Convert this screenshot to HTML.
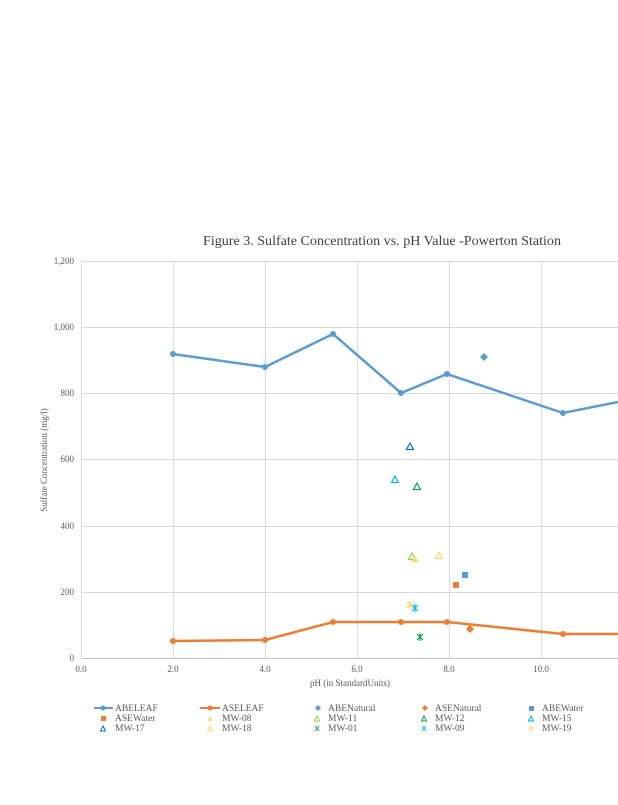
<!DOCTYPE html>
<html><head><style>
body{margin:0;background:#fff;}
svg text{font-family:"Liberation Serif",serif;fill:#595959;}
</style></head><body>
<svg width="618" height="800" xmlns="http://www.w3.org/2000/svg">
<g stroke="#d9d9d9" stroke-width="1">
<line x1="81" y1="261.5" x2="618" y2="261.5"/>
<line x1="81" y1="327.5" x2="618" y2="327.5"/>
<line x1="81" y1="393.5" x2="618" y2="393.5"/>
<line x1="81" y1="459.5" x2="618" y2="459.5"/>
<line x1="81" y1="526.5" x2="618" y2="526.5"/>
<line x1="81" y1="592.5" x2="618" y2="592.5"/>
<line x1="173.5" y1="261" x2="173.5" y2="658"/>
<line x1="265.5" y1="261" x2="265.5" y2="658"/>
<line x1="357.5" y1="261" x2="357.5" y2="658"/>
<line x1="449.5" y1="261" x2="449.5" y2="658"/>
<line x1="541.5" y1="261" x2="541.5" y2="658"/>
<line x1="81.5" y1="261" x2="81.5" y2="658"/>
</g>
<line x1="81" y1="658.5" x2="618" y2="658.5" stroke="#bfbfbf"/>
<text x="382" y="245" font-size="13.5" text-anchor="middle" style="fill:#404040" textLength="358" lengthAdjust="spacingAndGlyphs">Figure 3. Sulfate Concentration  vs. pH Value  -Powerton  Station</text>
<g font-size="9" text-anchor="end">
<text x="74" y="264">1,200</text><text x="74" y="330">1,000</text><text x="74" y="396">800</text>
<text x="74" y="462">600</text><text x="74" y="529">400</text><text x="74" y="595">200</text><text x="74" y="661">0</text>
</g>
<g font-size="9" text-anchor="middle">
<text x="81" y="672">0.0</text><text x="173" y="672">2.0</text><text x="265" y="672">4.0</text>
<text x="357" y="672">6.0</text><text x="449" y="672">8.0</text><text x="541" y="672">10.0</text>
<text x="350" y="686">pH (in StandardUnits)</text>
</g>
<text font-size="9" transform="translate(47,460) rotate(-90)" text-anchor="middle">Sulfate  Concentration  (mg/l)</text>
<polyline points="173,354 265,367 333,334 401,393 447,374 563,413 618,402" fill="none" stroke="#5b9bd5" stroke-width="2.5"/>
<polyline points="173,641 265,640 333,622 401,622 447,622 563,634 618,634" fill="none" stroke="#ed7d31" stroke-width="2.5"/>
<g fill="#5b9bd5"><circle cx="173" cy="354" r="3"/><circle cx="265" cy="367" r="3"/><circle cx="333" cy="334" r="3"/><circle cx="401" cy="393" r="3"/><circle cx="447" cy="374" r="3"/><circle cx="563" cy="413" r="3"/>
<path d="M484 353 l4 4 -4 4 -4 -4z"/><rect x="462" y="572" width="6" height="6"/></g>
<g fill="#ed7d31"><circle cx="173" cy="641" r="3"/><circle cx="265" cy="640" r="3"/><circle cx="333" cy="622" r="3"/><circle cx="401" cy="622" r="3"/><circle cx="447" cy="622" r="3"/><circle cx="563" cy="634" r="3"/>
<path d="M470 625 l4 4 -4 4 -4 -4z"/><rect x="453" y="582" width="6" height="6"/></g>
<g fill="none" stroke-width="1.2">
<path d="M410 443 l3.5 6.5 h-7z" stroke="#0070c0"/>
<path d="M395 476 l3.5 6.5 h-7z" stroke="#00b0f0"/>
<path d="M417 483 l3.5 6.5 h-7z" stroke="#00a050"/>
<path d="M412 553 l3.5 6.5 h-7z" stroke="#92d050"/>
<path d="M439 552 l3.5 6.5 h-7z" stroke="#ffd966"/>
</g>
<path d="M415 556 l4 6 h-8z" fill="#ffd966"/>
<g stroke-width="1.2">
<path d="M407 602 l6 6 M413 602 l-6 6 M410 601 v8" stroke="#ffd966"/>
<path d="M412 605 l6 6 M418 605 l-6 6 M415 604 v8" stroke="#00b0f0"/>
<path d="M417 634 l6 6 M423 634 l-6 6 M420 633 v8" stroke="#00a050"/>
</g>
<!-- legend -->
<g font-size="9.5">
<line x1="94" y1="708" x2="113" y2="708" stroke="#5b9bd5" stroke-width="2"/><circle cx="103" cy="708" r="2.5" fill="#5b9bd5"/><text x="115" y="711">ABELEAF</text>
<line x1="200" y1="708" x2="220" y2="708" stroke="#ed7d31" stroke-width="2"/><circle cx="210" cy="708" r="2.5" fill="#ed7d31"/><text x="222" y="711">ASELEAF</text>
<path d="M318 705 l3 3 -3 3 -3 -3z" fill="#5b9bd5"/><text x="328" y="711">ABENatural</text>
<path d="M425 705 l3 3 -3 3 -3 -3z" fill="#ed7d31"/><text x="435" y="711">ASENatural</text>
<rect x="529" y="706" width="5" height="5" fill="#5b9bd5"/><text x="542" y="711">ABEWater</text>
<rect x="101" y="716" width="5" height="5" fill="#ed7d31"/><text x="115" y="721">ASEWater</text>
<path d="M210 716 l2.5 5 h-5z" fill="#ffd966"/><text x="222" y="721">MW-08</text>
<path d="M317 716 l2.5 5 h-5z" fill="none" stroke="#92d050"/><text x="328" y="721">MW-11</text>
<path d="M424 716 l2.5 5 h-5z" fill="none" stroke="#00a050"/><text x="435" y="721">MW-12</text>
<path d="M531 716 l2.5 5 h-5z" fill="none" stroke="#00b0f0"/><text x="542" y="721">MW-15</text>
<path d="M103 726 l2.5 5 h-5z" fill="none" stroke="#0070c0"/><text x="115" y="731">MW-17</text>
<path d="M210 726 l2.5 5 h-5z" fill="none" stroke="#ffd966"/><text x="222" y="731">MW-18</text>
<path d="M315 726 l4 5 M319 726 l-4 5" stroke="#00a050"/><text x="328" y="731">MW-01</text>
<path d="M422 726 l4 5 M426 726 l-4 5" stroke="#00b0f0"/><text x="435" y="731">MW-09</text>
<path d="M529 726 l4 5 M533 726 l-4 5" stroke="#ffd966"/><text x="542" y="731">MW-19</text>
</g>
</svg>
</body></html>
